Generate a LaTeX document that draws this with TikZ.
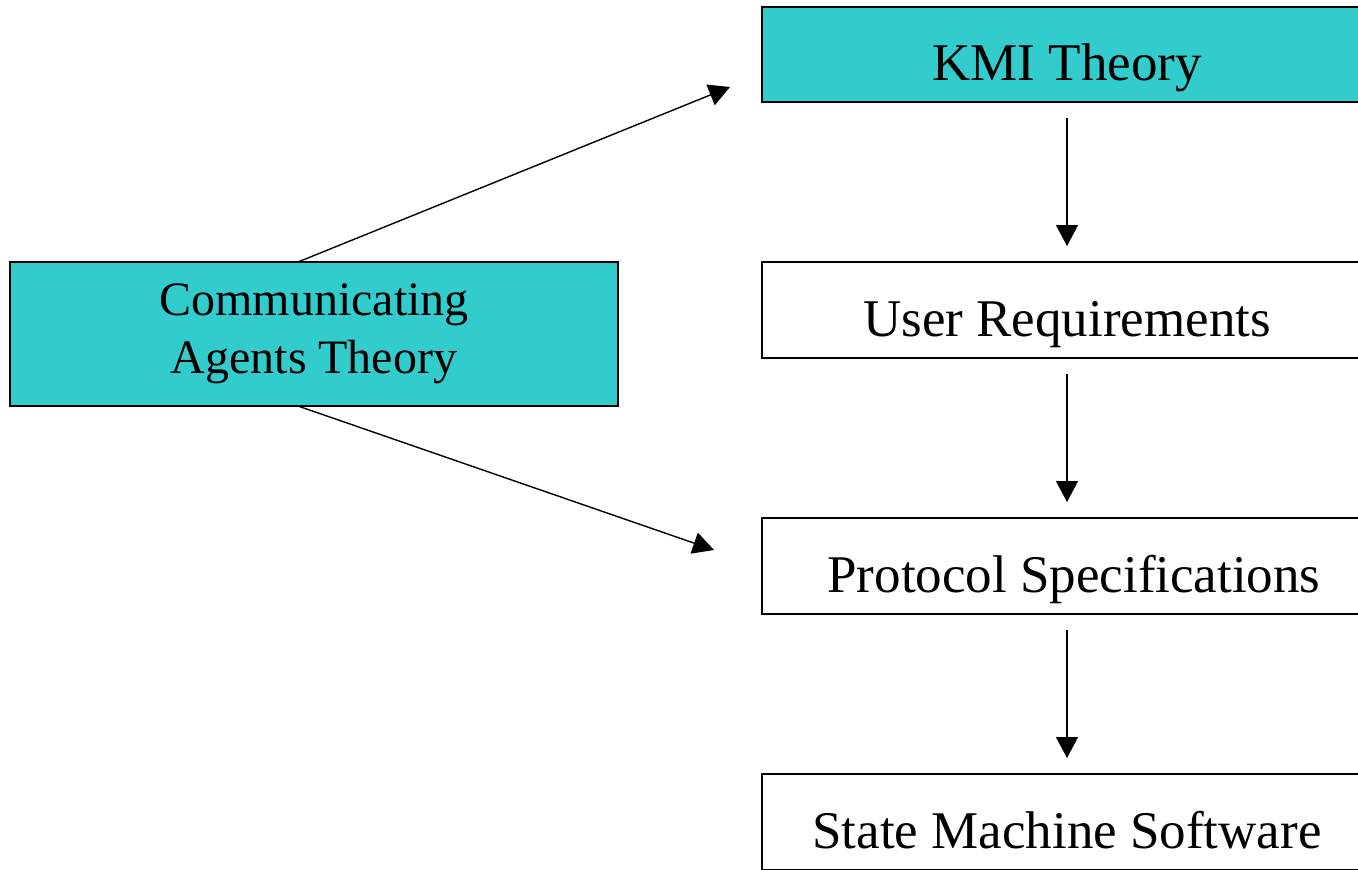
\documentclass[tikz,border=0pt]{standalone}
\usepackage{fontspec}
\setmainfont{Liberation Serif}
\usetikzlibrary{arrows.meta}
\newcommand{\lowtext}[1]{\raisebox{-13pt}[0pt][0pt]{#1}}
\tikzset{
  box/.style={draw=black, line width=0.75pt, rectangle, inner sep=0pt, font=\fontsize{26.5}{30}\selectfont, align=center},
  teal/.style={fill=tealfill},
  conn/.style={line width=0.7pt, -{Triangle[length=10.5pt,width=11pt]}}
}
\definecolor{tealfill}{HTML}{33CCCC}
\begin{document}
\begin{tikzpicture}[x=0.5pt,y=-0.5pt]
\useasboundingbox (0,0) rectangle (1358,869);
\clip (0,0) rectangle (1358,869);
\node[box,teal,minimum width=305pt,minimum height=47.5pt] (kmi) at (1067,54.5) {\lowtext{KMI Theory}};
\node[box,minimum width=305pt,minimum height=48pt] (ur) at (1067,310) {\lowtext{User Requirements}};
\node[box,minimum width=305pt,minimum height=48pt] (ps) at (1067,566) {\lowtext{\hspace*{7pt}Protocol Specifications}};
\node[box,minimum width=305pt,minimum height=48pt] (sm) at (1067,822) {\lowtext{State Machine Software}};
\node[box,teal,minimum width=304pt,minimum height=72pt,font=\fontsize{24}{29}\selectfont] (cat) at (314,334) {Communicating\\Agents Theory};
\coordinate (cattop) at (298,262);
\coordinate (catbot) at (298,406);
\coordinate (e1) at (730,87);
\coordinate (e2) at (714,550);
\draw[conn] (cattop) -- (e1);
\draw[conn] (catbot) -- (e2);
\coordinate (k1) at (1067,118);
\coordinate (k2) at (1067,246);
\coordinate (u1) at (1067,374);
\coordinate (u2) at (1067,502);
\coordinate (p1) at (1067,630);
\coordinate (p2) at (1067,758);
\draw[conn] (k1) -- (k2);
\draw[conn] (u1) -- (u2);
\draw[conn] (p1) -- (p2);
\end{tikzpicture}
\end{document}
